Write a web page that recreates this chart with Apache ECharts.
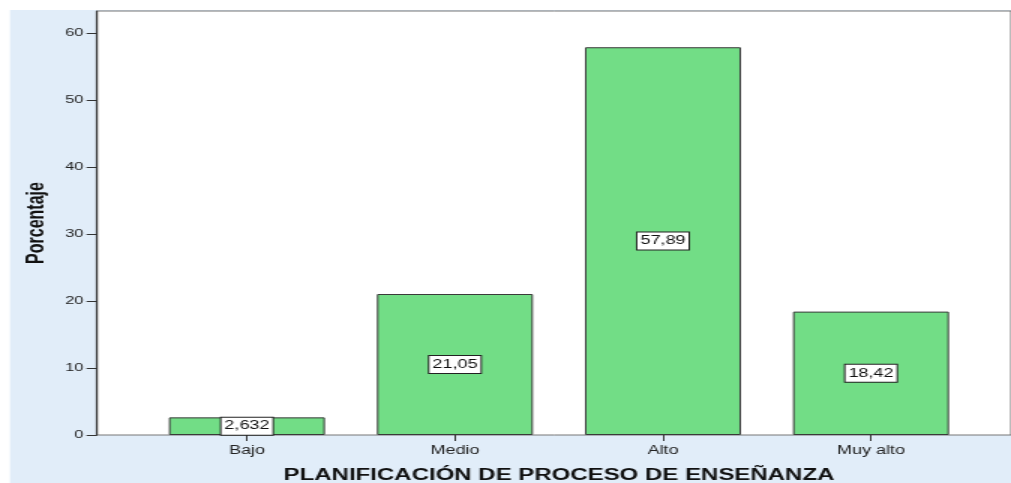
<!DOCTYPE html>
<html>
<head>
<meta charset="utf-8">
<script src="https://cdn.jsdelivr.net/npm/echarts@6/dist/echarts.min.js"></script>
<style>
  html, body { margin: 0; padding: 0; background: #fff; overflow: hidden; }
  /* la imagen original está estirada en horizontal, 1.5x */
  #chart { width: 674px; height: 483px; transform: scaleX(1.5); transform-origin: 0 0; }
</style>
</head>
<body>
<div id="chart"></div>
<script>
// datos del gráfico
const categories = ['Bajo', 'Medio', 'Alto', 'Muy alto']
const porcentajes = [2.632, 21.05, 57.89, 18.42]
const yMax = 63.3

const chart = echarts.init(document.getElementById('chart'))

// etiqueta con coma decimal
const fmt = v => String(v).replace('.', ',')

const option = {
  animation: false,
  backgroundColor: '#fff',
  graphic: [{
    type: 'rect',
    silent: true,
    z: -10,
    shape: { x: 6.7, y: 10, width: 668, height: 473 },
    style: { fill: '#e1edf9' }
  }],
  grid: [
    // marco del área de trazado
    { left: 64.7, top: 11, right: 0, bottom: 48, show: true, backgroundColor: '#fff', borderColor: '#777', borderWidth: 1, outerBoundsMode: 'none' },
    // barras
    { left: 95.3, top: 11, right: 24, bottom: 48, outerBoundsMode: 'none' }
  ],
  xAxis: [
    { gridIndex: 0, type: 'value', show: false, min: 0, max: 1 },
    {
      gridIndex: 1,
      type: 'category',
      data: categories,
      axisLine: { show: false },
      axisTick: { show: true, alignWithLabel: true, length: 6, lineStyle: { color: '#333' } },
      axisLabel: { color: '#222', fontSize: 12, fontFamily: 'Liberation Sans, Arial', margin: 10 },
      name: 'PLANIFICACIÓN DE PROCESO DE ENSEÑANZA',
      nameLocation: 'middle',
      nameGap: 33,
      nameTextStyle: { color: '#111', fontSize: 16, fontWeight: 'bold', fontFamily: 'Liberation Sans, Arial' }
    }
  ],
  yAxis: [
    {
      gridIndex: 0,
      type: 'value',
      min: 0,
      max: yMax,
      interval: 10,
      axisLine: { show: true, lineStyle: { color: '#333', width: 1.2 } },
      axisTick: { show: true, length: 7, lineStyle: { color: '#333' } },
      axisLabel: {
        color: '#222', fontSize: 11, fontFamily: 'Liberation Sans, Arial', margin: 9,
        showMaxLabel: false,
        formatter: v => (v % 10 === 0 ? String(v) : '')
      },
      splitLine: { show: false },
      name: 'Porcentaje',
      nameLocation: 'middle',
      nameRotate: 90,
      nameGap: 32,
      nameTextStyle: { color: '#111', fontSize: 16, fontWeight: 'bold', fontFamily: 'Liberation Sans Narrow, Liberation Sans, Arial' }
    },
    { gridIndex: 1, type: 'value', min: 0, max: yMax, show: false }
  ],
  series: [{
    type: 'bar',
    xAxisIndex: 1,
    yAxisIndex: 1,
    data: porcentajes,
    barWidth: 104,
    itemStyle: { color: '#72dd86', borderColor: '#3a3a3a', borderWidth: 1 },
    label: {
      show: true,
      position: 'inside',
      formatter: p => fmt(p.value),
      color: '#111',
      fontSize: 12,
      lineHeight: 14,
      fontFamily: 'Liberation Sans, Arial',
      backgroundColor: '#fff',
      borderColor: '#222',
      borderWidth: 1,
      padding: [2, 2, 1, 2]
    }
  }]
}

chart.setOption(option)
</script>
</body>
</html>
